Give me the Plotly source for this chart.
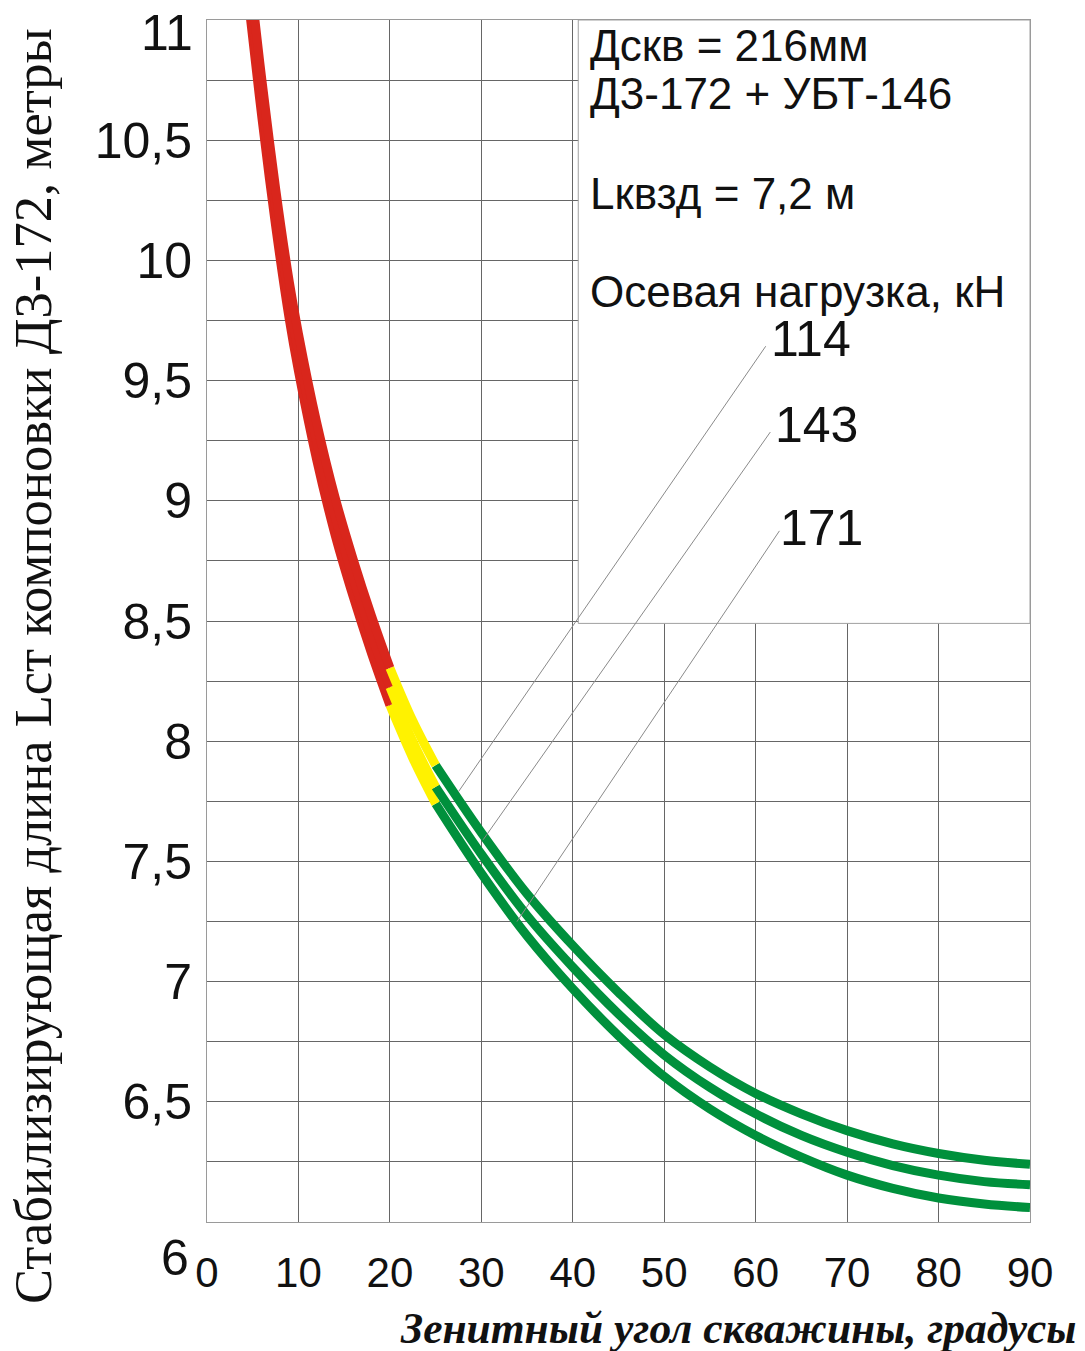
import plotly.graph_objects as go

# ---------------- data ----------------
angle_deg = [4.7, 5, 6, 7.5, 9, 10, 12, 14, 16, 18, 20, 22.5, 25, 30, 35, 40, 45, 50, 55, 60, 65, 70, 75, 80, 85, 90]
load_114 = [11.18, 11.08, 10.75, 10.30, 9.91, 9.695, 9.325, 9.015, 8.755, 8.52, 8.305, 8.085, 7.90,
            7.62, 7.365, 7.15, 6.955, 6.78, 6.645, 6.535, 6.45, 6.38, 6.325, 6.285, 6.257, 6.24]
load_143 = [11.10, 11.00, 10.67, 10.22, 9.83, 9.615, 9.245, 8.935, 8.675, 8.44, 8.225, 8.00, 7.81,
            7.53, 7.275, 7.06, 6.865, 6.695, 6.56, 6.45, 6.36, 6.29, 6.235, 6.195, 6.168, 6.155]
load_171 = [11.025, 10.925, 10.595, 10.145, 9.755, 9.54, 9.17, 8.86, 8.60, 8.365, 8.15, 7.93, 7.74,
            7.45, 7.19, 6.97, 6.775, 6.605, 6.47, 6.36, 6.27, 6.195, 6.14, 6.10, 6.075, 6.06]
load_names = ["114", "143", "171"]

zone_limits = [20, 25]          # red up to 20 deg, yellow 20-25, green beyond
zone_colors = ["#D9261C", "#FFF200", "#00903C"]

x_tickvals = [0, 10, 20, 30, 40, 50, 60, 70, 80, 90]
x_ticktext = ["0", "10", "20", "30", "40", "50", "60", "70", "80", "90"]
y_tickvals = [6.5, 7, 7.5, 8, 8.5, 9, 9.5, 10, 10.5]
y_ticktext = ["6,5", "7", "7,5", "8", "8,5", "9", "9,5", "10", "10,5"]
y_origin_label = "6"
y_top_label = "11"

info_lines = ["Дскв = 216мм", "Д3-172 + УБТ-146", "Lквзд = 7,2 м", "Осевая нагрузка, кН"]
x_title = "Зенитный угол скважины, градусы"
y_title = "Стабилизирующая длина Lст компоновки Д3-172, метры"

# ---------------- figure ----------------
fig = go.Figure()

curves = [load_171, load_143, load_114]
for vals in curves:
    segs = [
        [i for i, a in enumerate(angle_deg) if a >= zone_limits[1]],
        [i for i, a in enumerate(angle_deg) if zone_limits[0] <= a <= zone_limits[1]],
        [i for i, a in enumerate(angle_deg) if a <= zone_limits[0]],
    ]
    cols = [zone_colors[2], zone_colors[1], zone_colors[0]]
    for idx, c in zip(segs, cols):
        fig.add_trace(go.Scatter(
            x=[angle_deg[i] for i in idx], y=[vals[i] for i in idx],
            mode="lines", line=dict(color=c, width=9, shape="spline", smoothing=1.0),
            hoverinfo="skip", showlegend=False))

FONT_SANS = "Liberation Sans, Arial, sans-serif"
FONT_SERIF = "Liberation Serif, Times New Roman, serif"

grid_col = "#666666"

fig.update_xaxes(
    range=[0, 90], tickvals=x_tickvals, ticktext=x_ticktext,
    showgrid=True, gridcolor=grid_col, gridwidth=1,
    showline=True, linecolor="#9a9a9a", linewidth=1, mirror=True,
    ticks="", ticklabelstandoff=14,
    tickfont=dict(family=FONT_SANS, size=42, color="#111"),
    zeroline=False, fixedrange=True,
)
fig.update_yaxes(
    range=[6, 11], tickvals=y_tickvals, ticktext=y_ticktext,
    showgrid=True, gridcolor=grid_col, gridwidth=1,
    minor=dict(dtick=0.25, tick0=6, showgrid=True, gridcolor=grid_col, gridwidth=1),
    showline=True, linecolor="#9a9a9a", linewidth=1, mirror=True,
    ticks="", ticklabelstandoff=4,
    tickfont=dict(family=FONT_SANS, size=50, color="#111"),
    zeroline=False, fixedrange=True,
)

# info box
shapes = [dict(type="rect", xref="x", yref="y", x0=40.6, x1=90, y0=8.49, y1=11,
               fillcolor="white", line=dict(color="#a0a0a0", width=1), layer="above")]
# leader lines from labels to curves
leader = [((61.1, 9.643), (27.5, 7.79)), ((61.6, 9.286), (30.2, 7.59)), ((62.6, 8.875), (33.9, 7.25))]
for (xa, ya), (xb, yb) in leader:
    shapes.append(dict(type="line", xref="x", yref="y", x0=xa, y0=ya, x1=xb, y1=yb,
                       line=dict(color="#8a8a8a", width=1), layer="above"))

annotations = []
info_y = [10.896, 10.696, 10.279, 9.871]
for t, yy in zip(info_lines, info_y):
    annotations.append(dict(text=t, x=41.7, y=yy, xref="x", yref="y", xanchor="left", yanchor="middle",
                            showarrow=False, font=dict(family=FONT_SANS, size=44, color="#111")))
label_pos = [(66.05, 9.673), (66.6, 9.317), (67.2, 8.8875)]
for t, (xx, yy) in zip(load_names, label_pos):
    annotations.append(dict(text=t, x=xx, y=yy, xref="x", yref="y", xanchor="center", yanchor="middle",
                            showarrow=False, font=dict(family=FONT_SANS, size=50, color="#111")))
# corner labels placed as in the original
annotations.append(dict(text=y_origin_label, x=-0.0389, y=-0.03, xref="paper", yref="paper",
                        xanchor="center", yanchor="middle", showarrow=False,
                        font=dict(family=FONT_SANS, size=50, color="#111")))
annotations.append(dict(text=y_top_label, x=-0.014, y=0.9892, xref="paper", yref="paper",
                        xanchor="right", yanchor="middle", showarrow=False,
                        font=dict(family=FONT_SANS, size=50, color="#111")))
# axis titles
annotations.append(dict(text=y_title, x=-0.2114, y=0.4626, xref="paper", yref="paper",
                        xanchor="center", yanchor="middle", textangle=-90, showarrow=False,
                        font=dict(family=FONT_SERIF, size=52.5, color="#111")))
annotations.append(dict(text="<b><i>" + x_title + "</i></b>", x=0.6464, y=-0.0882, xref="paper", yref="paper",
                        xanchor="center", yanchor="middle", showarrow=False,
                        font=dict(family=FONT_SERIF, size=43.5, color="#111")))

fig.update_layout(
    width=1085, height=1351,
    margin=dict(l=207, r=55, t=20, b=129),
    paper_bgcolor="white", plot_bgcolor="white",
    shapes=shapes, annotations=annotations,
    showlegend=False,
)

fig.write_html("out.html", config={"displayModeBar": False})
